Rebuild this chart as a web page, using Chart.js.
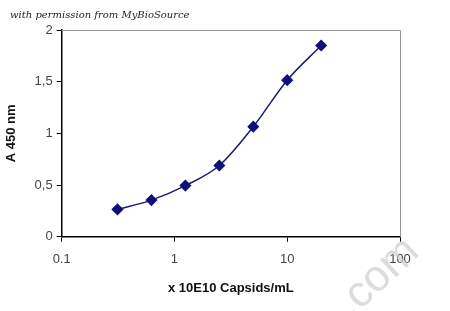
<!DOCTYPE html>
<html>
<head>
<meta charset="utf-8">
<script src="https://cdn.jsdelivr.net/npm/chart.js@4"></script>
<style>
  html, body { margin: 0; padding: 0; background: #fff; }
  #wrap { width: 450px; height: 311px; position: relative; }
</style>
</head>
<body>
<div id="wrap"><canvas id="elisa" width="450" height="311"></canvas></div>
<script>
const capsids = [0.3125, 0.625, 1.25, 2.5, 5, 10, 20];
const absorbance = [0.265, 0.355, 0.495, 0.69, 1.065, 1.515, 1.85];
const xTicks = [0.1, 1, 10, 100];
const yTicks = [0, 0.5, 1, 1.5, 2];

const frame = {
  id: "frame",
  afterDraw(chart) {
    const { ctx, chartArea: a } = chart;
    ctx.save();
    ctx.strokeStyle = "#999";
    ctx.lineWidth = 1;
    ctx.beginPath();
    ctx.moveTo(a.left, a.top + 0.5);
    ctx.lineTo(a.right + 0.5, a.top + 0.5);
    ctx.lineTo(a.right + 0.5, a.bottom);
    ctx.stroke();

    ctx.font = "italic 10px 'DejaVu Serif'";
    ctx.fillStyle = "#222";
    ctx.textBaseline = "middle";
    ctx.fillText("with permission from MyBioSource", 10, 15);

    // faint watermark
    ctx.translate(351, 319);
    ctx.rotate(-43 * Math.PI / 180);
    ctx.font = "44px 'Liberation Sans'";
    ctx.fillStyle = "rgba(205,205,205,0.7)";
    ctx.textBaseline = "alphabetic";
    ctx.fillText(".com", 0, 0);
    ctx.restore();
  }
};

new Chart(document.getElementById("elisa"), {
  type: "line",
  data: {
    datasets: [{
      data: capsids.map((x, i) => ({ x: x, y: absorbance[i] })),
      borderColor: "#1c1c6e",
      borderWidth: 1.5,
      backgroundColor: "#10107a",
      pointStyle: "rectRot",
      pointRadius: 5,
      pointBorderColor: "#10107a",
      tension: 0.4,
      cubicInterpolationMode: "monotone"
    }]
  },
  options: {
    responsive: false,
    animation: false,
    layout: { padding: { left: 2, right: 50, top: 30, bottom: 3 } },
    plugins: { legend: { display: false }, tooltip: { enabled: false } },
    scales: {
      x: {
        type: "logarithmic",
        min: 0.1,
        max: 100,
        afterBuildTicks: s => { s.ticks = xTicks.map(v => ({ value: v })); },
        ticks: {
          color: "#444",
          font: { family: "Liberation Sans", size: 13 },
          padding: 10,
          maxRotation: 0,
          callback: v => String(v)
        },
        grid: { display: true, drawOnChartArea: false, drawTicks: true, tickLength: 5, color: "#000" },
        border: { display: true, color: "#000", width: 1.5 },
        title: {
          display: true,
          text: "x 10E10 Capsids/mL",
          color: "#111",
          font: { family: "Liberation Sans", size: 13, weight: "bold" },
          padding: { top: 3, bottom: 12 }
        }
      },
      y: {
        min: 0,
        max: 2,
        afterBuildTicks: s => { s.ticks = yTicks.map(v => ({ value: v })); },
        ticks: {
          color: "#444",
          font: { family: "Liberation Sans", size: 13 },
          padding: 4,
          callback: v => String(v).replace(".", ",")
        },
        grid: { display: true, drawOnChartArea: false, drawTicks: true, tickLength: 5, color: "#000" },
        border: { display: true, color: "#000", width: 1.5 },
        title: {
          display: true,
          text: "A 450 nm",
          color: "#111",
          font: { family: "Liberation Sans", size: 13, weight: "bold" },
          padding: { top: 2, bottom: 11 }
        }
      }
    }
  },
  plugins: [frame]
});
</script>
</body>
</html>
